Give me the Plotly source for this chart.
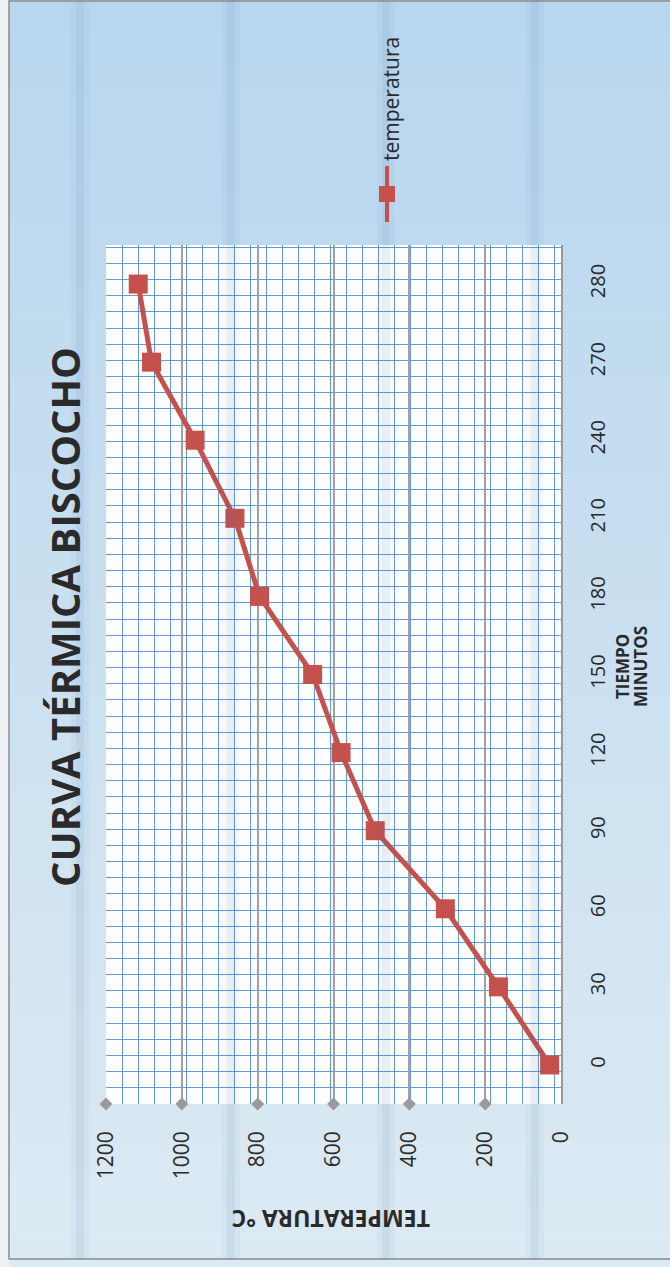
import plotly.graph_objects as go

# --- data -------------------------------------------------------------
tiempo_min = ["0", "30", "60", "90", "120", "150", "180", "210", "240", "270", "280"]
temperatura_c = [30, 165, 305, 490, 580, 655, 795, 860, 965, 1080, 1115]
temp_ticks = [0, 200, 400, 600, 800, 1000, 1200]
serie = "temperatura"
titulo = "CURVA TÉRMICA BISCOCHO"
titulo_tiempo = ["TIEMPO", "MINUTOS"]
titulo_temp = "TEMPERATURA °C"

# --- page geometry (chart printed sideways) ---------------------------
W, H = 670, 1267
L, R, T, B = 106, 109, 245, 163
PW, PH = W - L - R, H - T - B
RED = "#c4514c"
BLUE = "rgba(60,130,210,0.8)"
FONT = "Open Sans"


def px(x):
    # page pixel -> paper fraction (paper spans the plot area)
    return (x - L) / PW


def py(y):
    return (H - B - y) / PH


pos = list(range(len(tiempo_min)))

fig = go.Figure()
fig.add_trace(go.Scatter(
    x=temperatura_c, y=pos, mode="lines+markers", name=serie,
    line=dict(color=RED, width=5),
    marker=dict(symbol="square", size=19, color=RED),
    cliponaxis=False, showlegend=False,
))
# diamond marks under each value gridline
fig.add_trace(go.Scatter(
    x=temp_ticks[1:], y=[-0.5] * (len(temp_ticks) - 1), mode="markers",
    marker=dict(symbol="diamond", size=10, color="#9a9a9a"),
    cliponaxis=False, showlegend=False, hoverinfo="skip",
))

shapes = []
# light-blue sheet background, deeper at the top
N = 40
c0, c1 = (184, 214, 238), (220, 234, 243)
for i in range(N):
    t = i / (N - 1)
    c = tuple(int(round(a + (b - a) * t)) for a, b in zip(c0, c1))
    shapes.append(dict(type="rect", xref="paper", yref="paper", layer="below",
                       x0=px(9), x1=px(W + 2), y0=py(min(H, (i + 1) * H / N + 1)), y1=py(i * H / N - 1),
                       line=dict(width=0), fillcolor="rgb(%d,%d,%d)" % c))
# white plot area
shapes.append(dict(type="rect", xref="paper", yref="paper", layer="below",
                   x0=0, x1=1, y0=0, y1=1, line=dict(width=0), fillcolor="white"))
# sheet frame
shapes.append(dict(type="rect", xref="paper", yref="paper", layer="below",
                   x0=px(9), x1=px(W + 5), y0=py(1259), y1=py(1),
                   line=dict(color="#8c8c8c", width=1.5), fillcolor="rgba(0,0,0,0)"))
# soft vertical streaks across the sheet
for xc in [80, 231, 386, 535]:
    shapes.append(dict(type="rect", xref="paper", yref="paper", layer="above",
                       x0=px(xc - 9), x1=px(xc + 9), y0=py(1259), y1=py(1),
                       line=dict(width=0), fillcolor="rgba(70,120,175,0.05)"))
    shapes.append(dict(type="rect", xref="paper", yref="paper", layer="above",
                       x0=px(xc - 4), x1=px(xc + 4), y0=py(1259), y1=py(1),
                       line=dict(width=0), fillcolor="rgba(70,120,175,0.07)"))
# legend key: line with square marker
shapes.append(dict(type="line", xref="paper", yref="paper",
                   x0=px(387), x1=px(387), y0=py(222), y1=py(166),
                   line=dict(color=RED, width=4)))
shapes.append(dict(type="rect", xref="paper", yref="paper",
                   x0=px(379), x1=px(395), y0=py(202), y1=py(186),
                   line=dict(width=0), fillcolor=RED))

annotations = [
    dict(text="<b>%s</b>" % titulo, x=px(64), y=py(617), xref="paper", yref="paper",
         textangle=-90, showarrow=False, xanchor="center", yanchor="middle",
         font=dict(family=FONT, size=40, color="#2a2a2a")),
    dict(text="<b>%s</b>" % titulo_temp, x=px(331), y=py(1219), xref="paper", yref="paper",
         textangle=180, showarrow=False, xanchor="center", yanchor="middle",
         font=dict(family=FONT, size=23, color="#2a2a2a")),
    dict(text=serie, x=px(391), y=py(163), xref="paper", yref="paper",
         textangle=-90, showarrow=False, xanchor="center", yanchor="bottom",
         font=dict(family=FONT, size=21, color="#2a2a2a")),
]
# two-line time axis title
for line_txt, xc in zip(titulo_tiempo, [622, 640]):
    annotations.append(dict(text="<b>%s</b>" % line_txt, x=px(xc), y=py(667),
                            xref="paper", yref="paper", textangle=-90, showarrow=False,
                            xanchor="center", yanchor="middle",
                            font=dict(family=FONT, size=17, color="#2a2a2a")))

fig.update_layout(
    width=W, height=H,
    margin=dict(l=L, r=R, t=T, b=B, pad=0),
    paper_bgcolor="#eef2f4",
    plot_bgcolor="white",
    shapes=shapes,
    annotations=annotations,
    showlegend=False,
    font=dict(family=FONT, color="#2a2a2a"),
    xaxis=dict(
        range=[1200, 0], tickmode="array", tickvals=temp_ticks,
        tickangle=-90, tickfont=dict(size=21), ticklabelstandoff=22,
        showgrid=True, gridcolor="#a0a0a0", gridwidth=1.6,
        zeroline=False, showline=False, ticks="",
        minor=dict(tick0=1200, dtick=42.2, showgrid=True, gridcolor=BLUE, gridwidth=1.4),
    ),
    yaxis=dict(
        range=[-0.5, 10.5], tickmode="array", tickvals=pos, ticktext=tiempo_min,
        side="right", tickangle=-90, tickfont=dict(size=20), ticklabelstandoff=18,
        showgrid=False, zeroline=False,
        showline=True, linecolor="#9a9a9a", linewidth=2, ticks="",
        minor=dict(tick0=-0.5, dtick=0.207, showgrid=True, gridcolor=BLUE, gridwidth=1.4),
    ),
)

fig.write_html("out.html")
